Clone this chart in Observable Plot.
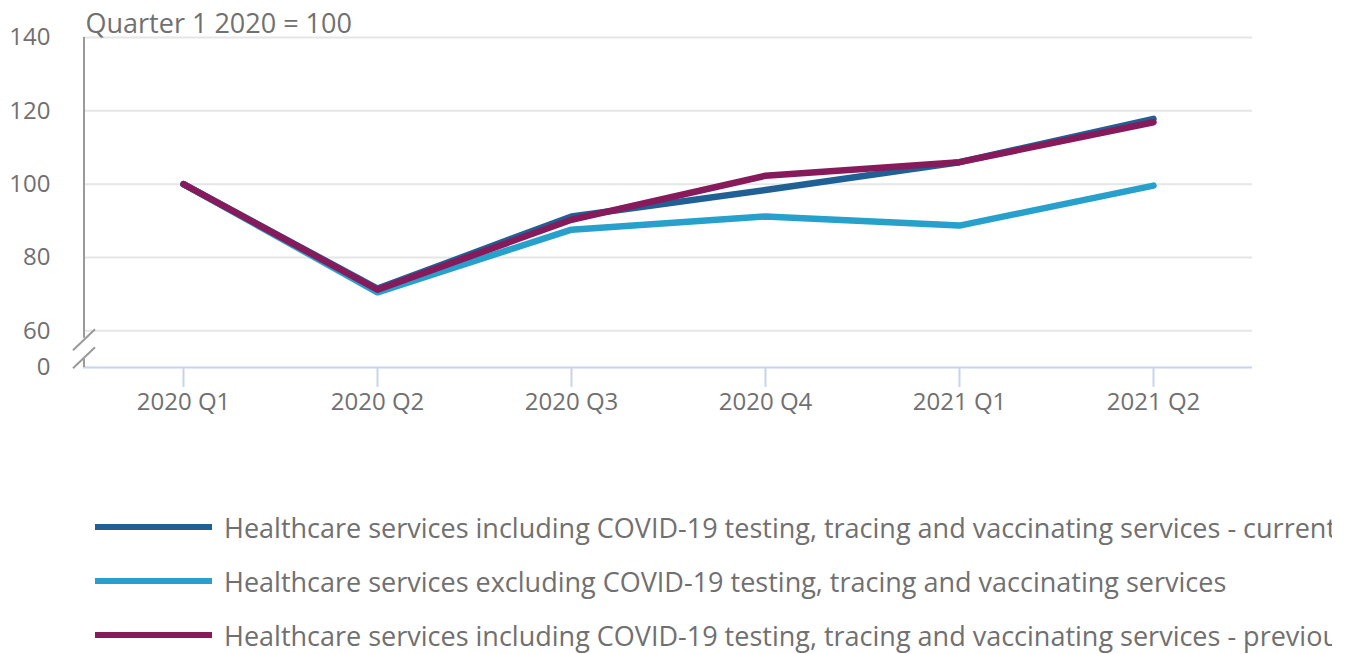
<!DOCTYPE html>
<html>
<head>
<meta charset="utf-8">
<script src="https://cdn.jsdelivr.net/npm/d3@7"></script>
<script src="https://cdn.jsdelivr.net/npm/@observablehq/plot@0.6"></script>
<style>
  html, body { margin: 0; padding: 0; background: #fff; }
  body { width: 1350px; height: 654px; overflow: hidden; font-family: "Open Sans", sans-serif; }
  #chart svg { display: block; }
  #legend { padding-top: 70px; width: 1332px; overflow: hidden; white-space: nowrap; }
  .item { height: 54px; display: flex; align-items: center; color: #707070; font-size: 27px; }
  .sw { width: 117px; height: 6px; margin-left: 95px; margin-right: 12px; flex: none; }
</style>
</head>
<body>
<div id="chart"></div>
<div id="legend"></div>
<script>
const quarters = ["2020 Q1", "2020 Q2", "2020 Q3", "2020 Q4", "2021 Q1", "2021 Q2"];
const seriesNames = [
  "Healthcare services including COVID-19 testing, tracing and vaccinating services - current",
  "Healthcare services excluding COVID-19 testing, tracing and vaccinating services",
  "Healthcare services including COVID-19 testing, tracing and vaccinating services - previous"
];
const currentValues  = [100, 71.5, 91.2, 98.4, 106.0, 117.8];
const excludingValues = [100, 70.5, 87.6, 91.2, 88.7, 99.6];
const previousValues = [100, 71.2, 90.3, 102.3, 106.0, 116.9];
const seriesColors = ["#206095", "#27a0cc", "#871a5b"];
const yGridTicks = [60, 80, 100, 120, 140];
const yBreakValue = 50;   // position on the axis where the "0" label sits (broken axis)
const yAxisTicks = [yBreakValue, ...yGridTicks];
const unitLabel = "Quarter 1 2020 = 100";

const allValues = [currentValues, excludingValues, previousValues];
const data = [];
seriesNames.forEach((s, i) => quarters.forEach((q, j) => data.push({series: s, quarter: q, value: allValues[i][j]})));

const textColor = "#707070";

const plot = Plot.plot({
  width: 1350,
  height: 430,
  marginLeft: 83,
  marginRight: 98,
  marginTop: 37,
  marginBottom: 63,
  style: {fontFamily: "'Open Sans', sans-serif", fontSize: "24px", color: textColor, background: "#fff"},
  x: {type: "point", domain: quarters, padding: 0.5},
  y: {domain: [yBreakValue, 140]},
  color: {domain: seriesNames, range: seriesColors},
  marks: [
    Plot.gridY(yGridTicks, {stroke: "#e6e6e6", strokeOpacity: 1, strokeWidth: 2}),
    Plot.ruleY([yBreakValue], {stroke: "#c8d4ea", strokeWidth: 2}),
    Plot.axisX({tickSize: 20, tickPadding: 5, stroke: "#c8d4ea", strokeWidth: 2, fill: textColor, fontSize: 24, label: null}),
    Plot.axisY(yAxisTicks, {tickSize: 0, tickPadding: 33, fill: textColor, fontSize: 24, label: null,
      tickFormat: d => d === yBreakValue ? "0" : String(d)}),
    Plot.line(data, {x: "quarter", y: "value", z: "series", stroke: "series", strokeWidth: 6.5,
      strokeLinecap: "round", strokeLinejoin: "round"}),
    Plot.text([unitLabel], {frameAnchor: "top-left", dx: 2, dy: -5, lineAnchor: "bottom", textAnchor: "start",
      fill: textColor, fontSize: 27})
  ]
});

document.getElementById("chart").appendChild(plot);

// Broken y-axis line drawn from the library's y scale
const ys = plot.scale("y");
const x0 = 84;
const yTop = ys.apply(140);
const yBot = ys.apply(yBreakValue);
const yMid = ys.apply((yGridTicks[0] + yBreakValue) / 2);
const svg = d3.select(plot);
const g = svg.append("g").attr("stroke", "#9a9a9a").attr("stroke-width", 2).attr("fill", "none");
g.append("line").attr("x1", x0).attr("x2", x0).attr("y1", yTop).attr("y2", yMid - 11);
g.append("line").attr("x1", x0).attr("x2", x0).attr("y1", yMid + 10).attr("y2", yBot);
[-9, 9].forEach(o => {
  g.append("line").attr("x1", x0 - 11).attr("y1", yMid + o + 10.5).attr("x2", x0 + 11).attr("y2", yMid + o - 10.5);
});

// Legend
const legend = document.getElementById("legend");
seriesNames.forEach((s, i) => {
  const it = document.createElement("div");
  it.className = "item";
  const sw = document.createElement("span");
  sw.className = "sw";
  sw.style.background = seriesColors[i];
  const t = document.createElement("span");
  t.textContent = s;
  it.appendChild(sw);
  it.appendChild(t);
  legend.appendChild(it);
});
</script>
</body>
</html>
